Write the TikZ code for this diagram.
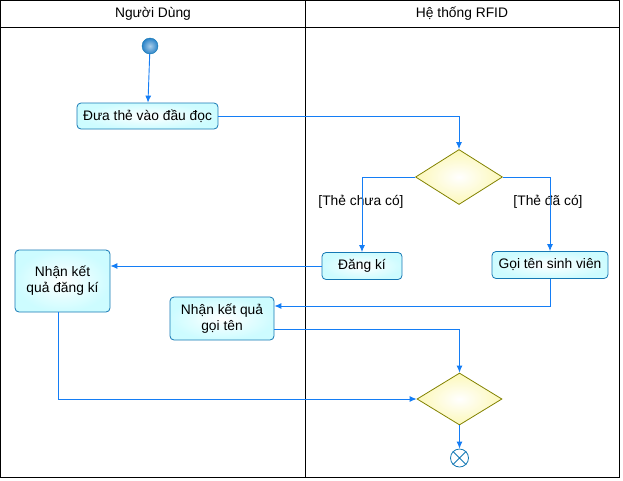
\documentclass[tikz,border=0pt]{standalone}
\usepackage{fontspec}
\setmainfont{Liberation Sans}
\usetikzlibrary{shapes.geometric,arrows.meta,calc}
\definecolor{flow}{RGB}{20,125,245}
\definecolor{boxline}{RGB}{20,120,180}
\definecolor{boxfill}{RGB}{205,252,255}
\definecolor{decline}{RGB}{130,130,0}
\definecolor{decfill}{RGB}{252,248,185}
\definecolor{startfill}{RGB}{40,130,200}
\begin{document}
\begin{tikzpicture}[x=1pt,y=-1pt,
  every node/.style={font=\fontsize{13.8}{16}\selectfont},
  act/.style={draw=boxline,rounded corners=4pt,inner color=white,outer color=boxfill,line width=0.8pt,align=center,inner sep=0pt},
  dec/.style={diamond,draw=decline,inner color=white,outer color=decfill,line width=0.8pt,inner sep=0pt},
  flowline/.style={draw=flow,line width=0.9pt,-{Latex[length=7pt,width=6pt]}},
  lbl/.style={inner sep=0pt}]
\useasboundingbox (0,0) rectangle (623,480);
% swimlanes
\draw[line width=0.8pt] (0.5,0.5) rectangle (619.5,477.5);
\draw[line width=0.8pt] (0.5,27.5) -- (619.5,27.5);
\draw[line width=0.8pt] (305.5,0.5) -- (305.5,477.5);
\node[lbl] (lane1) at (153,14) {Người Dùng};
\node[lbl] (lane2) at (462,14) {Hệ thống RFID};
% nodes
\node[circle,draw=boxline,inner color=startfill!40,outer color=startfill,minimum size=16pt,inner sep=0pt] (start) at (150,46) {};
\node[act,minimum width=141pt,minimum height=26pt] (dua) at (147.5,116) {Đưa thẻ vào đầu đọc};
\node[dec,minimum width=87pt,minimum height=55pt] (d1) at (459,177) {};
\node[act,minimum width=80pt,minimum height=27pt] (dangki) at (362,266) {Đăng kí};
\node[act,minimum width=116pt,minimum height=27pt] (goiten) at (550,265) {Gọi tên sinh viên};
\node[act,minimum width=95pt,minimum height=62pt] (nkqdk) at (62.5,281) {Nhận kết\\quả đăng kí};
\node[act,minimum width=104pt,minimum height=43pt] (nkqgt) at (222,318.5) {Nhận kết quả\\gọi tên};
\node[dec,minimum width=85pt,minimum height=52pt] (d2) at (459.5,399) {};
\node[circle,draw=boxline,line width=0.8pt,minimum size=18pt,inner sep=0pt] (end) at (459.5,458) {};
\draw[boxline,line width=0.8pt] (end.north east) -- (end.south west) (end.north west) -- (end.south east);
\node[lbl] (l1) at (361,202) {[Thẻ chưa có]};
\node[lbl] (l2) at (548,202) {[Thẻ đã có]};
% connectors
\draw[flowline] (start) -- (dua);
\draw[flowline] (dua.east) -| (d1.north);
\draw[flowline] (d1.west) -| (dangki.north);
\draw[flowline] (d1.east) -| (goiten.north);
\draw[flowline] (dangki.west) -- (nkqdk.east |- dangki.west);
\draw[flowline] (goiten.south) |- (nkqgt.east |- 0,306);
\draw[flowline] (nkqgt.east |- 0,329) -| (d2.north);
\draw[flowline] (nkqdk.south -| 58,0) |- (d2.west);
\draw[flowline] (d2.south) -- (end.north);
\end{tikzpicture}
\end{document}
